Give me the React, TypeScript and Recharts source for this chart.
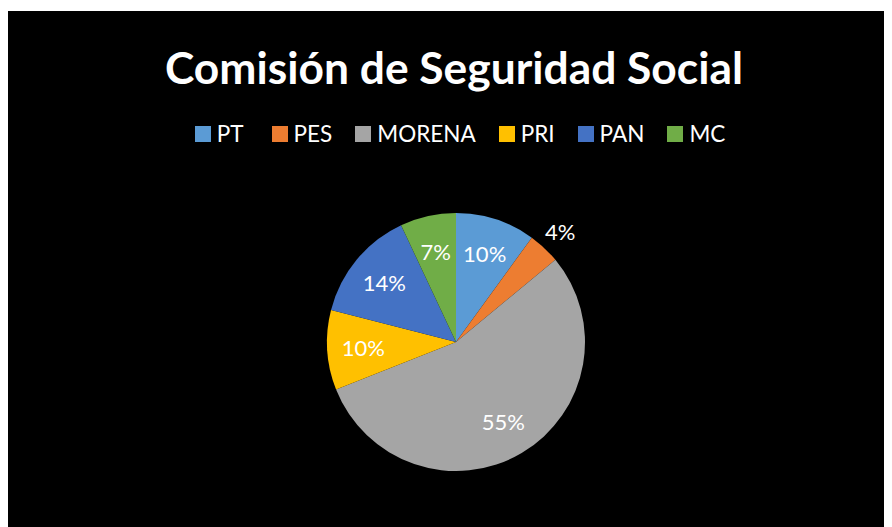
import React from "react";
import { PieChart, Pie, Cell } from "recharts";

const PARTIES = ["PT", "PES", "MORENA", "PRI", "PAN", "MC"];
const SHARES = [10, 4, 55, 10, 14, 7];
const COLORS = ["#5B9BD5", "#ED7D31", "#A5A5A5", "#FFC000", "#4472C4", "#70AD47"];

const TITLE = "Comisión de Seguridad Social";

const data = PARTIES.map((name, i) => ({ name, value: SHARES[i] }));

const RAD = Math.PI / 180;
const FONT = "Lato, 'Open Sans', sans-serif";

function renderLabel(props: any) {
  const { cx, cy, midAngle, outerRadius, percent } = props;
  // small slices get their label pushed outside, as Excel's best fit does
  const r = percent < 0.05 ? outerRadius * 1.18 : outerRadius * 0.72;
  const x = cx + r * Math.cos(-midAngle * RAD);
  const y = cy + r * Math.sin(-midAngle * RAD);
  return (
    <text
      x={x}
      y={y}
      fill="#fff"
      fontSize={22}
      fontFamily={FONT}
      textAnchor="middle"
      dominantBaseline="central"
    >
      {`${Math.round(percent * 100)}%`}
    </text>
  );
}

// legend kept in series order (Recharts' own legend sorts by name)
function ChartLegend() {
  return (
    <div
      style={{
        position: "absolute",
        top: 112,
        left: 0,
        width: 864,
        paddingLeft: 20,
        display: "flex",
        justifyContent: "center",
        alignItems: "center",
        gap: 23,
        fontFamily: FONT,
        fontSize: 22.5,
        lineHeight: "22px",
        color: "#fff",
      }}
    >
      {PARTIES.map((p, i) => (
        <div
          key={p}
          style={{ display: "flex", alignItems: "center", gap: 6, marginRight: i === 0 ? 5 : 0 }}
        >
          <span style={{ width: 16, height: 16, background: COLORS[i], display: "inline-block" }} />
          <span>{p}</span>
        </div>
      ))}
    </div>
  );
}

export default function App() {
  return (
    <div style={{ paddingTop: 3 }}>
      <div style={{ position: "relative", width: 884, height: 516, background: "#000" }}>
        <PieChart width={884} height={516} margin={{ top: 0, right: 0, bottom: 0, left: 0 }}>
          <text
            x={446}
            y={73}
            fill="#fff"
            fontSize={44}
            fontWeight={700}
            fontFamily={FONT}
            textAnchor="middle"
            textLength={578}
            lengthAdjust="spacingAndGlyphs"
          >
            {TITLE}
          </text>
          <Pie
            data={data}
            dataKey="value"
            nameKey="name"
            cx={448}
            cy={331}
            outerRadius={129}
            startAngle={90}
            endAngle={-270}
            stroke="none"
            labelLine={false}
            label={renderLabel}
            isAnimationActive={false}
          >
            {data.map((d, i) => (
              <Cell key={d.name} fill={COLORS[i]} />
            ))}
          </Pie>
        </PieChart>
        <ChartLegend />
      </div>
    </div>
  );
}
